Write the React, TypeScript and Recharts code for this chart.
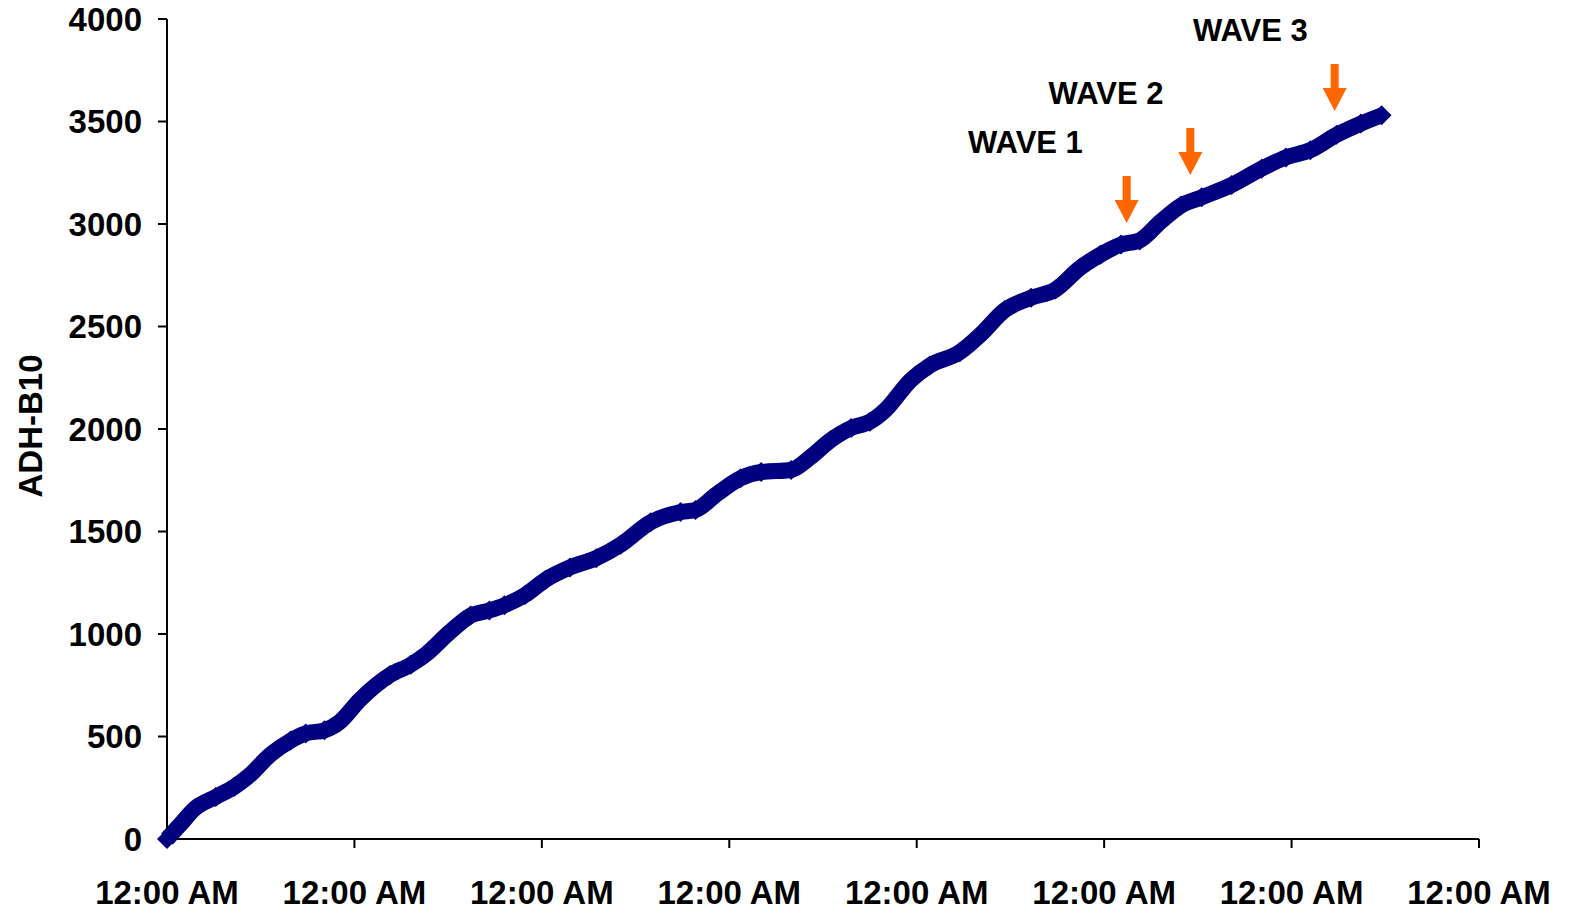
import React from "react";
import { LineChart, Line, XAxis, YAxis, ReferenceDot, Label } from "recharts";

// elapsed time in days
const days = [
  0, 0.07, 0.15, 0.26, 0.36, 0.44, 0.55, 0.66, 0.74, 0.84, 0.92, 1.03, 1.19, 1.3, 1.38,
  1.51, 1.62, 1.72, 1.8, 1.91, 2.02, 2.15, 2.29, 2.42, 2.58, 2.74, 2.82, 2.93, 3.06,
  3.17, 3.33, 3.43, 3.54, 3.65, 3.75, 3.83, 3.97, 4.07, 4.23, 4.34, 4.47, 4.61, 4.74,
  4.87, 4.98, 5.09, 5.19, 5.3, 5.41, 5.52, 5.68, 5.84, 5.97, 6.1, 6.24, 6.37, 6.48,
];
const adh = [
  0, 70, 150, 205, 255, 310, 410, 480, 515, 530, 570, 680, 800, 850, 900,
  1010, 1090, 1115, 1140, 1190, 1265, 1325, 1370, 1435, 1545, 1595, 1605, 1680, 1760,
  1790, 1800, 1860, 1945, 2005, 2035, 2090, 2240, 2310, 2375, 2460, 2580, 2640, 2680,
  2785, 2850, 2900, 2920, 3010, 3090, 3130, 3190, 3270, 3325, 3360, 3435, 3490, 3530,
];

const xTicks = [0, 1, 2, 3, 4, 5, 6, 7];
const xTickLabel = "12:00 AM";
const yTicks = [0, 500, 1000, 1500, 2000, 2500, 3000, 3500, 4000];

const waveNames = ["WAVE 1", "WAVE 2", "WAVE 3"];
const waveLabelX = [4.58, 5.01, 5.78];
const waveLabelY = [3400, 3639, 3946];
const arrowX = [5.12, 5.46, 6.23];
const arrowTipY = [3005, 3239, 3551];

const data = days.map((d, i) => ({ day: d, value: adh[i] }));

const FONT = "'Liberation Sans', Arial, sans-serif";
const NAVY = "#000080";
const ORANGE = "#FF6600";

const Diamond = (props: any) => {
  const { cx, cy, index } = props;
  if (cx == null || cy == null) return <g key={index} />;
  const r = 10;
  return (
    <path
      key={index}
      d={`M${cx},${cy - r} L${cx + r},${cy} L${cx},${cy + r} L${cx - r},${cy} Z`}
      fill={NAVY}
    />
  );
};

const Arrow = (props: any) => {
  const { cx, cy } = props;
  const d = `M${cx - 4},${cy - 47} L${cx + 4},${cy - 47} L${cx + 4},${cy - 23} L${cx + 12},${cy - 23} L${cx},${cy} L${cx - 12},${cy - 23} L${cx - 4},${cy - 23} Z`;
  return <path d={d} fill={ORANGE} />;
};

const waveText = (name: string) => (props: any) => (
  <text
    x={props.cx}
    y={props.cy}
    textAnchor="middle"
    dominantBaseline="central"
    fontFamily={FONT}
    fontWeight="bold"
    fontSize={31}
    fill="#000"
  >
    {name}
  </text>
);

export default function App() {
  return (
    <div style={{ width: 1571, height: 912, margin: -8, background: "#fff" }}>
      <LineChart
        width={1571}
        height={912}
        data={data}
        margin={{ top: 19, right: 92, bottom: 0, left: 0 }}
      >
        <XAxis
          dataKey="day"
          type="number"
          domain={[0, 7]}
          ticks={xTicks}
          tickFormatter={() => xTickLabel}
          height={73}
          tickSize={9}
          tickMargin={33}
          interval={0}
          axisLine={{ stroke: "#000", strokeWidth: 2 }}
          tickLine={{ stroke: "#000", strokeWidth: 2 }}
          tick={{ fill: "#000", fontSize: 33, fontWeight: "bold", fontFamily: FONT }}
        />
        <YAxis
          type="number"
          domain={[0, 4000]}
          ticks={yTicks}
          width={167}
          tickSize={9}
          tickMargin={16}
          interval={0}
          axisLine={{ stroke: "#000", strokeWidth: 2 }}
          tickLine={{ stroke: "#000", strokeWidth: 2 }}
          tick={{ fill: "#000", fontSize: 33, fontWeight: "bold", fontFamily: FONT }}
        >
          <Label
            content={() => (
              <text
                x={30}
                y={426}
                transform="rotate(-90 30 426)"
                textAnchor="middle"
                dominantBaseline="central"
                fontFamily={FONT}
                fontWeight="bold"
                fontSize={33}
                fill="#000"
              >
                ADH-B10
              </text>
            )}
          />
        </YAxis>
        <Line
          dataKey="value"
          type="monotone"
          stroke={NAVY}
          strokeWidth={16}
          strokeLinejoin="round"
          dot={Diamond}
          activeDot={false}
          isAnimationActive={false}
        />
        {arrowX.map((x, i) => (
          <ReferenceDot key={"a" + i} x={x} y={arrowTipY[i]} shape={Arrow} />
        ))}
        {waveNames.map((n, i) => (
          <ReferenceDot key={"w" + i} x={waveLabelX[i]} y={waveLabelY[i]} shape={waveText(n)} />
        ))}
      </LineChart>
    </div>
  );
}
